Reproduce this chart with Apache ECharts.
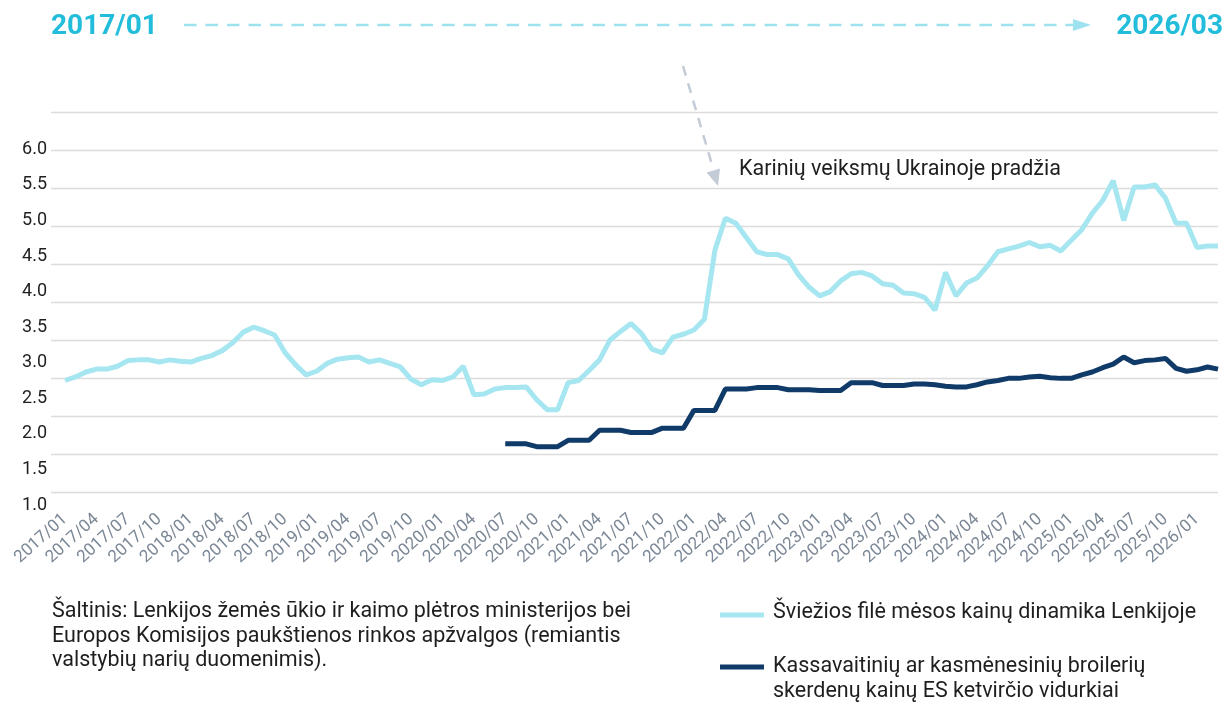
<!DOCTYPE html>
<html>
<head>
<meta charset="utf-8">
<script src="https://cdn.jsdelivr.net/npm/echarts@6/dist/echarts.min.js"></script>
<style>
  html, body { margin: 0; padding: 0; background: #fff; }
  #chart { width: 1229px; height: 706px; }
</style>
</head>
<body>
<div id="chart"></div>
<script>
// monthly labels 2017/01 .. 2026/03
const months = []
for (let y = 2017; y <= 2026; y++) {
  for (let m = 1; m <= 12; m++) {
    if (y === 2026 && m > 3) break
    months.push(y + '/' + String(m).padStart(2, '0'))
  }
}

const yTicks = [1.0, 1.5, 2.0, 2.5, 3.0, 3.5, 4.0, 4.5, 5.0, 5.5, 6.0]

// fresh fillet price, Poland (2017/01 .. 2026/03)
const filletPoland = [
  2.75, 2.80, 2.87, 2.91, 2.91, 2.95, 3.03, 3.04, 3.04, 3.01, 3.04, 3.02,
  3.01, 3.06, 3.10, 3.17, 3.28, 3.43, 3.50, 3.45, 3.39, 3.14, 2.97, 2.83,
  2.88, 2.99, 3.05, 3.07, 3.08, 3.01, 3.04, 2.99, 2.94, 2.77, 2.69, 2.76,
  2.75, 2.80, 2.95, 2.55, 2.56, 2.63, 2.65, 2.65, 2.66, 2.48, 2.34, 2.34,
  2.72, 2.75, 2.89, 3.04, 3.32, 3.44, 3.55, 3.41, 3.19, 3.14, 3.36, 3.40,
  3.46, 3.61, 4.58, 5.03, 4.96, 4.76, 4.56, 4.52, 4.52, 4.46, 4.23, 4.06,
  3.94, 4.00, 4.15, 4.25, 4.27, 4.22, 4.11, 4.09, 3.98, 3.97, 3.92, 3.74,
  4.27, 3.94, 4.12, 4.19, 4.36, 4.56, 4.60, 4.64, 4.69, 4.63, 4.65, 4.57,
  4.72, 4.87, 5.10, 5.28, 5.56, 5.00, 5.47, 5.47, 5.50, 5.31, 4.96, 4.96,
  4.62, 4.64, 4.64
]

// EU broiler carcass price, quarterly averages (2020/07 .. 2026/03)
const broilerStart = '2020/07'
const broilerEu = [
  1.86, 1.86, 1.86, 1.82, 1.82, 1.82,
  1.91, 1.91, 1.91, 2.05, 2.05, 2.05, 2.02, 2.02, 2.02, 2.08, 2.08, 2.08,
  2.33, 2.33, 2.33, 2.63, 2.63, 2.63, 2.65, 2.65, 2.65, 2.62, 2.62, 2.62,
  2.61, 2.61, 2.61, 2.72, 2.72, 2.72, 2.68, 2.68, 2.68, 2.70, 2.70, 2.69,
  2.67, 2.66, 2.66, 2.69, 2.73, 2.75, 2.78, 2.78, 2.80, 2.81, 2.79, 2.78,
  2.78, 2.83, 2.87, 2.93, 2.98, 3.08, 3.00, 3.03, 3.04, 3.06, 2.92, 2.88,
  2.90, 2.94, 2.91
]

const seriesNames = [
  'Šviežios filė mėsos kainų dinamika Lenkijoje',
  'Kassavaitinių ar kasmėnesinių broilerių\nskerdenų kainų ES ketvirčio vidurkiai'
]

const sourceLines = [
  'Šaltinis: Lenkijos žemės ūkio ir kaimo plėtros ministerijos bei',
  'Europos Komisijos paukštienos rinkos apžvalgos (remiantis',
  'valstybių narių duomenimis).'
]

const lightColor = '#a5e6f1'
const darkColor = '#103b68'
const titleColor = '#22bddb'
const font = 'Roboto, "Noto Sans", sans-serif'

const offset = months.indexOf(broilerStart)
const broilerData = broilerEu.map((v, i) => [months[offset + i], v])

const chart = echarts.init(document.getElementById('chart'))

chart.setOption({
  animation: false,
  textStyle: { fontFamily: font },
  grid: [
    // data grid
    { left: 65, right: 11, top: 149.3, bottom: 201 },
    // gridlines only
    { left: 51, right: 11, top: 112.3, bottom: 213.7 }
  ],
  xAxis: [
    {
      type: 'category',
      gridIndex: 0,
      data: months,
      boundaryGap: false,
      axisLine: { show: false },
      axisTick: { show: false },
      axisLabel: {
        interval: 2,
        rotate: 42,
        margin: 12,
        color: '#7b8795',
        fontSize: 17,
        fontFamily: font
      },
      splitLine: { show: false }
    },
    { type: 'value', gridIndex: 1, show: false, min: 0, max: 1 }
  ],
  yAxis: [
    {
      type: 'value',
      gridIndex: 0,
      min: yTicks[0],
      max: yTicks[yTicks.length - 1],
      interval: 0.5,
      axisLine: { show: false },
      axisTick: { show: false },
      splitLine: { show: false },
      axisLabel: {
        margin: 18,
        color: '#1e1e1e',
        fontSize: 18,
        fontFamily: font,
        formatter: v => v.toFixed(1)
      }
    },
    {
      type: 'value',
      gridIndex: 1,
      min: 0,
      max: 10,
      interval: 1,
      axisLine: { show: false },
      axisTick: { show: false },
      axisLabel: { show: false },
      splitLine: { lineStyle: { color: '#dcdcdc', width: 1.3 } }
    }
  ],
  series: [
    {
      name: seriesNames[0],
      type: 'line',
      xAxisIndex: 0,
      yAxisIndex: 0,
      data: filletPoland,
      showSymbol: false,
      lineStyle: { color: lightColor, width: 5 },
      itemStyle: { color: lightColor }
    },
    {
      name: seriesNames[1],
      type: 'line',
      xAxisIndex: 0,
      yAxisIndex: 0,
      data: broilerData,
      showSymbol: false,
      lineStyle: { color: darkColor, width: 5 },
      itemStyle: { color: darkColor }
    }
  ],
  graphic: [
    // period header
    {
      type: 'text', left: 51, top: 13,
      style: { text: months[0], font: 'bold 28px ' + font, fill: titleColor }
    },
    {
      type: 'text', right: 6, top: 13,
      style: { text: months[months.length - 1], font: 'bold 28px ' + font, fill: titleColor }
    },
    {
      type: 'line',
      shape: { x1: 184, y1: 25, x2: 1074, y2: 25 },
      style: { stroke: '#9fe2ef', lineWidth: 2.5, lineDash: [12.5, 9] }
    },
    {
      type: 'polygon',
      shape: { points: [[1073, 19], [1091, 25], [1073, 31]] },
      style: { fill: '#9fe2ef' }
    },
    // annotation
    {
      type: 'line',
      shape: { x1: 683, y1: 66, x2: 713, y2: 168 },
      style: { stroke: '#c3ccd6', lineWidth: 2.5, lineDash: [10, 8] }
    },
    {
      type: 'polygon',
      shape: { points: [[720, 168.5], [706.5, 172.5], [718, 186]] },
      style: { fill: '#c3ccd6' }
    },
    {
      type: 'text', left: 739, top: 158.5,
      style: { text: 'Karinių veiksmų Ukrainoje pradžia', font: '21.5px ' + font, fill: '#1e1e1e' }
    },
    // source
    {
      type: 'text', left: 52, top: 599.5,
      style: {
        text: sourceLines.join('\n'),
        font: '21.5px ' + font,
        lineHeight: 24.5,
        fill: '#1e1e1e'
      }
    },
    // legend
    {
      type: 'rect', shape: { x: 720, y: 612.5, width: 44, height: 5 },
      style: { fill: lightColor }
    },
    {
      type: 'text', left: 773, top: 602,
      style: { text: seriesNames[0], font: '21.5px ' + font, fill: '#1e1e1e' }
    },
    {
      type: 'rect', shape: { x: 720, y: 664.5, width: 44, height: 5 },
      style: { fill: darkColor }
    },
    {
      type: 'text', left: 773, top: 654,
      style: { text: seriesNames[1], font: '21.5px ' + font, lineHeight: 25, fill: '#1e1e1e' }
    }
  ]
})
</script>
</body>
</html>
